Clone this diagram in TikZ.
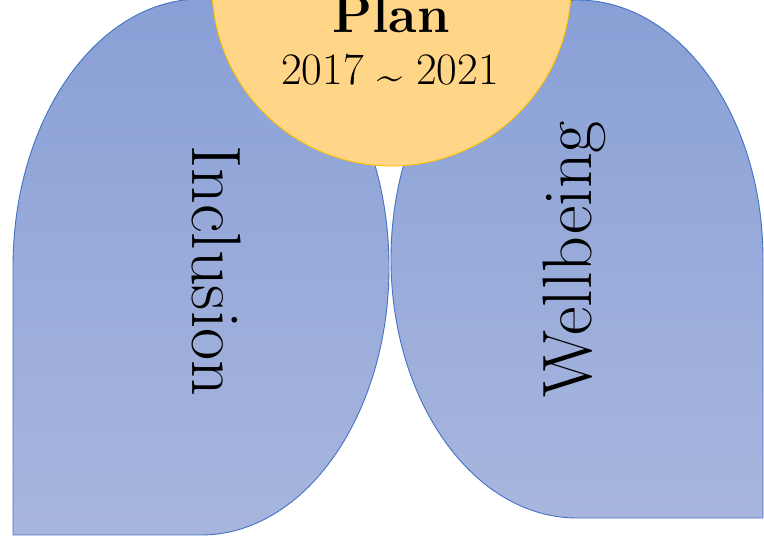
\documentclass[tikz,border=0pt]{standalone}
\usepackage{amsmath}
\usepackage{tikz}
\usetikzlibrary{positioning}

\definecolor{petaltop}{RGB}{137,160,214}
\definecolor{petalbot}{RGB}{168,182,222}
\definecolor{petalline}{RGB}{68,114,196}
\definecolor{hubfill}{RGB}{255,213,135}
\definecolor{hubline}{RGB}{255,192,0}

\tikzset{
  petal/.style={draw=petalline, line width=0.9pt, top color=petaltop, bottom color=petalbot},
  hub/.style={draw=hubline, line width=0.9pt, fill=hubfill},
  word/.style={inner sep=0pt, anchor=base, font=\fontsize{70}{74}\selectfont}
}

\begin{document}
\begin{tikzpicture}[x=1pt,y=1pt]
\useasboundingbox (0,0) rectangle (764,540);
\clip (0,0) rectangle (764,540);
\fill[white] (0,0) rectangle (764,540);

% left and right petals
\path[petal] (13,5) -- (13,273) arc[start angle=180, end angle=-90, x radius=188, y radius=268] -- cycle;
\path[petal] (763,22) -- (763,281) arc[start angle=0, end angle=270, x radius=186, y radius=259] -- cycle;

% centre circle
\path[hub] (391.5,553.5) circle (179.5);

		\node[inner sep=0pt, anchor=base, font=\fontsize{52}{58}\selectfont\bfseries] (plan) at (391,507){Plan};
		\node[inner sep=0pt, anchor=base, font=\fontsize{45}{50}\selectfont] (years) at (390,455){2017 \raisebox{-0.12em}{\textasciitilde} 2021};

		\node[word, rotate=-90] (inclusion) at (192,269){Inclusion};
		\node[word, rotate=90] (wellbeing) at (591,281){Wellbeing};

\end{tikzpicture}
\end{document}
